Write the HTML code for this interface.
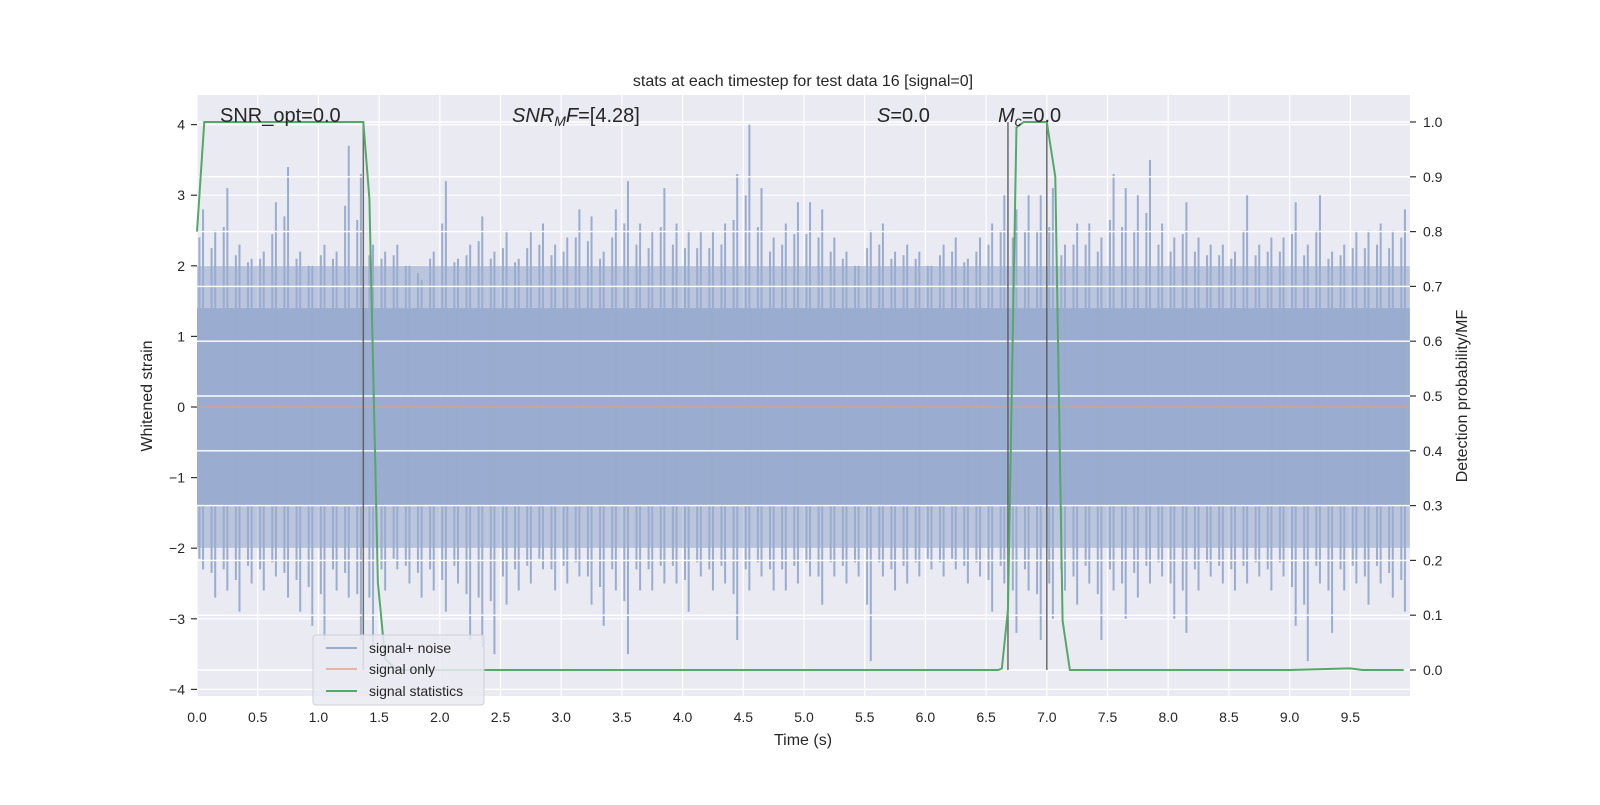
<!DOCTYPE html>
<html><head><meta charset="utf-8"><style>
body{margin:0;background:#fff;}
svg text{font-family:"Liberation Sans","DejaVu Sans",sans-serif;fill:#262626;}
</style></head><body>
<svg id="chart" width="1600" height="800" xmlns="http://www.w3.org/2000/svg">
<rect x="197" y="95" width="1213" height="601" fill="#eaeaf2"/>
<g id="gridL"></g>
<g id="noise"></g>
<g id="gridR"></g>
<g id="sig"></g>
<g id="vlines"></g>
<g id="stat"></g>
<g id="axes"></g>
<text x="803" y="86" font-size="16" text-anchor="middle">stats at each timestep for test data 16 [signal=0]</text>
<text x="803" y="745" font-size="16" text-anchor="middle">Time (s)</text>
<text transform="translate(152,396) rotate(-90)" font-size="16" text-anchor="middle">Whitened strain</text>
<text transform="translate(1467,396) rotate(-90)" font-size="16" text-anchor="middle">Detection probability/MF</text>
<text x="220" y="122" font-size="20">SNR_opt=0.0</text>
<text x="512" y="122" font-size="20"><tspan font-style="italic">SNR</tspan><tspan font-style="italic" font-size="14" dy="4">M</tspan><tspan font-style="italic" dy="-4">F</tspan>=[4.28]</text>
<text x="877" y="122" font-size="20"><tspan font-style="italic">S</tspan>=0.0</text>
<text x="998" y="122" font-size="20"><tspan font-style="italic">M</tspan><tspan font-style="italic" font-size="14" dy="4">c</tspan><tspan dy="-4">=0.0</tspan></text>
<g>
<rect x="313" y="635" width="171" height="70" rx="3" fill="#eaeaf2" fill-opacity="0.85" stroke="#d0d0d8"/>
<line x1="326" y1="648" x2="357" y2="648" stroke="rgb(154,172,207)" stroke-width="2"/>
<text x="369" y="653" font-size="14">signal+ noise</text>
<line x1="326" y1="669" x2="357" y2="669" stroke="rgb(230,180,160)" stroke-width="2"/>
<text x="369" y="674" font-size="14">signal only</text>
<line x1="326" y1="691" x2="357" y2="691" stroke="#55a868" stroke-width="2"/>
<text x="369" y="696" font-size="14">signal statistics</text>
</g>
</svg>
<script>
const noiseMax=[2.8,2.5,3.1,2.3,2.1,2.2,2.9,3.4,2.2,2.0,2.3,2.2,3.7,3.3,2.3,2.2,2.3,2.0,1.8,2.2,3.2,2.1,2.3,2.7,2.2,2.5,2.1,2.5,2.6,2.3,2.4,2.8,2.7,2.2,2.8,3.2,2.6,2.5,3.1,2.6,2.5,2.5,2.5,2.6,3.3,4.0,3.1,2.4,2.6,2.9,2.9,2.8,2.4,2.2,2.0,2.5,2.6,2.2,2.3,2.2,2.0,2.3,2.4,2.1,2.4,2.6,3.0,2.8,3.0,3.0,3.1,2.3,2.6,2.6,2.4,3.3,3.1,3.0,3.5,2.6,2.4,2.9,2.4,2.3,2.3,2.2,3.0,2.3,2.4,2.4,2.9,2.3,3.0,2.2,2.3,2.5,2.5,2.6,2.5,2.8];
const noiseMin=[-2.3,-2.7,-2.6,-2.9,-2.5,-2.6,-2.4,-2.7,-2.9,-3.1,-3.3,-2.6,-2.7,-3.3,-3.4,-2.6,-2.3,-2.5,-2.7,-2.6,-2.9,-2.5,-3.3,-3.4,-3.5,-2.8,-2.6,-2.5,-2.3,-2.6,-2.5,-2.4,-2.8,-3.1,-2.6,-3.5,-2.6,-2.6,-2.5,-2.5,-2.9,-2.4,-2.6,-2.5,-3.3,-2.6,-2.4,-2.6,-2.6,-2.5,-2.4,-2.8,-2.4,-2.5,-2.4,-3.6,-2.4,-2.6,-2.5,-2.4,-2.3,-2.4,-2.3,-2.5,-2.4,-2.9,-2.5,-3.2,-2.6,-3.3,-3.0,-2.6,-2.8,-2.5,-3.3,-2.6,-3.0,-2.7,-2.5,-2.4,-3.0,-3.2,-2.6,-2.4,-2.5,-2.6,-2.5,-2.4,-2.6,-2.4,-3.1,-3.6,-2.5,-3.2,-2.6,-2.5,-2.8,-2.5,-2.7,-2.9];
const noiseCore=[-1.4,1.4];
const noiseOuter=[-2.0,2.0];
const statT=[0,0.06,0.12,0.5,1.0,1.37,1.42,1.49,1.55,1.65,2.0,3.0,4.0,5.0,6.0,6.6,6.63,6.68,6.75,6.81,7.0,7.07,7.13,7.19,7.3,8.0,9.0,9.5,9.6,9.94];
const statP=[0.80,1.0,1.0,1.0,1.0,1.0,0.86,0.16,0.02,0.0,0.0,0.0,0.0,0.0,0.0,0.0,0.003,0.11,0.99,1.0,1.0,0.9,0.09,0.0,0.0,0.0,0.0,0.003,0.0,0.0];
const markerT=[1.37,6.68,7.0];
const xTicks=[0,0.5,1,1.5,2,2.5,3,3.5,4,4.5,5,5.5,6,6.5,7,7.5,8,8.5,9,9.5];
const yTicks=[-4,-3,-2,-1,0,1,2,3,4];
const y2Ticks=[0,0.1,0.2,0.3,0.4,0.5,0.6,0.7,0.8,0.9,1.0];
const NS='http://www.w3.org/2000/svg';
const X=t=>197+t*121.4, Y=v=>407-v*70.6, Y2=p=>670-p*548;
function mk(tag,attrs,parent){const e=document.createElementNS(NS,tag);for(const k in attrs)e.setAttribute(k,attrs[k]);document.getElementById(parent).appendChild(e);return e;}
xTicks.forEach(t=>{const l=mk('line',{x1:X(t),x2:X(t),y1:95,y2:696,stroke:'#fff','stroke-width':1.2},'gridL');});
yTicks.forEach(v=>{const l=mk('line',{x1:197,x2:1410,y1:Y(v),y2:Y(v),stroke:'#fff','stroke-width':1.2},'gridL');});
const nc='rgb(154,172,207)';
let r=mk('rect',{x:X(0),y:Y(noiseOuter[1]),width:X(9.99)-X(0),height:Y(noiseOuter[0])-Y(noiseOuter[1]),fill:nc,'fill-opacity':0.6},'noise');

r=mk('rect',{x:X(0),y:Y(noiseCore[1]),width:X(9.99)-X(0),height:Y(noiseCore[0])-Y(noiseCore[1]),fill:nc},'noise');

noiseMax.forEach((v,i)=>{const x=X(i*0.1+0.05);const l=mk('line',{x1:x,x2:x,y1:Y(v),y2:Y(noiseMin[i]),stroke:nc,'stroke-width':2},'noise');
const x2=X(i*0.1+0.02);const l2=mk('line',{x1:x2,x2:x2,y1:Y((v+2)/2),y2:Y((noiseMin[i]-2)/2),stroke:nc,'stroke-width':2},'noise');});
y2Ticks.forEach(p=>{const l=mk('line',{x1:197,x2:1410,y1:Y2(p),y2:Y2(p),stroke:'#fff','stroke-width':1.4},'gridR');});
let s=mk('line',{x1:X(0),x2:X(9.99),y1:Y(0),y2:Y(0),stroke:'rgb(215,160,135)','stroke-width':1.5},'sig');

markerT.forEach(t=>{const l=mk('line',{x1:X(t),x2:X(t),y1:Y2(1),y2:Y2(0),stroke:'#555','stroke-width':1.5,'stroke-opacity':0.85},'vlines');});
let p=mk('polyline',{points:statT.map((t,i)=>X(t)+','+Y2(statP[i])).join(' '),fill:'none',stroke:'#55a868','stroke-width':2},'stat');

xTicks.forEach(t=>{const tx=mk('text',{x:X(t),y:722,'font-size':14,'text-anchor':'middle'},'axes');tx.textContent=t.toFixed(1);});
yTicks.forEach(v=>{const tx=mk('text',{x:185,y:Y(v)+5,'font-size':14,'text-anchor':'end'},'axes');tx.textContent=v<0?'\u2212'+(-v):String(v);
const tk=mk('line',{x1:191,x2:197,y1:Y(v),y2:Y(v),stroke:'#333','stroke-width':1.2},'axes');});
y2Ticks.forEach(v=>{const tx=mk('text',{x:1423,y:Y2(v)+5,'font-size':14},'axes');tx.textContent=v.toFixed(1);
const tk=mk('line',{x1:1410,x2:1416,y1:Y2(v),y2:Y2(v),stroke:'#333','stroke-width':1.2},'axes');});
</script>
</body></html>
